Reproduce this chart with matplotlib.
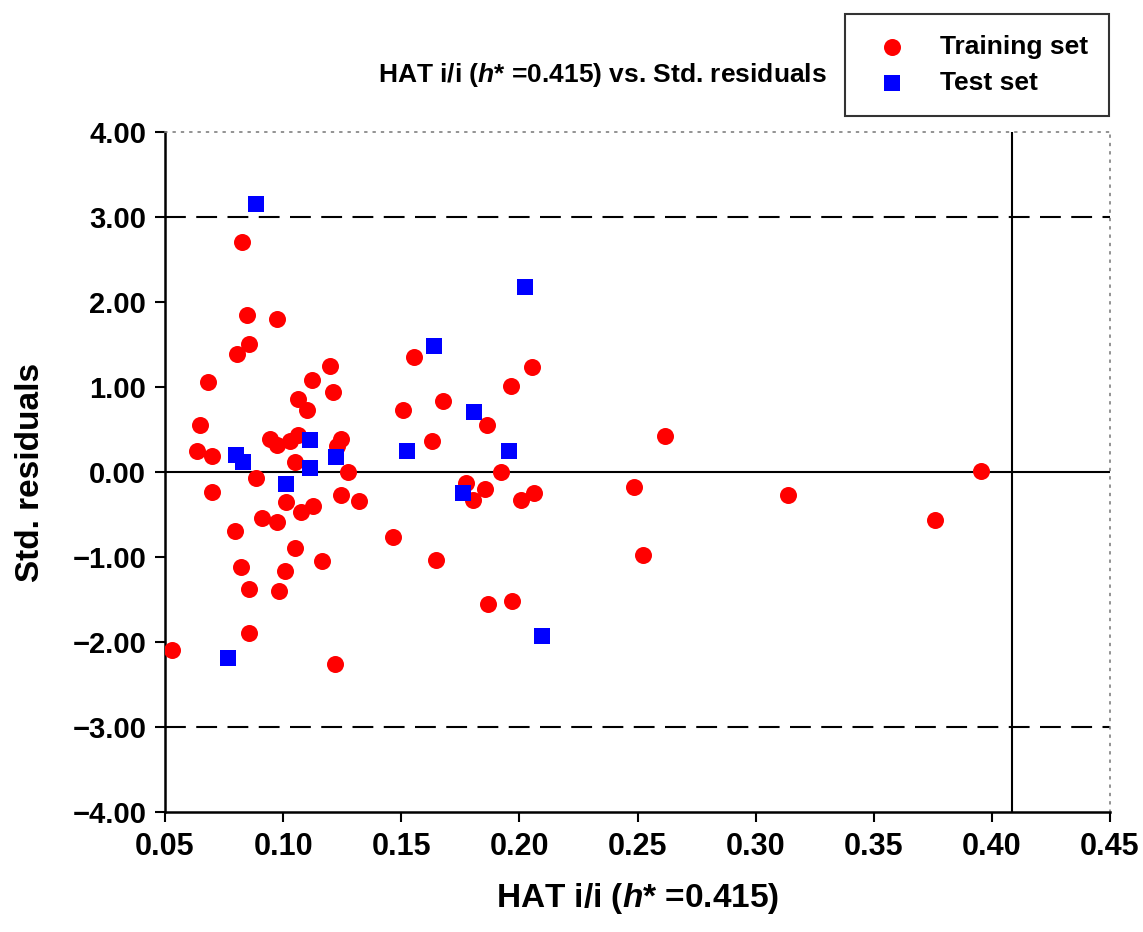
import matplotlib
matplotlib.use('Agg')
import matplotlib.pyplot as plt

# Williams plot: leverage (HAT i/i) vs standardised residuals
train_hat = [0.053, 0.0635, 0.065, 0.068, 0.070, 0.070,
             0.0826, 0.0846, 0.0973, 0.0855, 0.0803, 0.120, 0.112, 0.121, 0.1063, 0.110,
             0.0944, 0.0973, 0.103, 0.1063, 0.105, 0.1245, 0.123, 0.1275, 0.0885, 0.101,
             0.1127, 0.1077, 0.1245, 0.132, 0.091, 0.0973,
             0.0795, 0.105, 0.1165, 0.0822, 0.1008, 0.0856, 0.0981, 0.0856, 0.122,
             0.1554, 0.2053, 0.1965, 0.1677, 0.1507, 0.1862, 0.163, 0.1922, 0.1774,
             0.1855, 0.1804, 0.2007, 0.2062,
             0.1465, 0.1647, 0.1867, 0.1969,
             0.2616, 0.2485, 0.2523, 0.3137, 0.376, 0.3954]
train_res = [-2.09, 0.25, 0.55, 1.06, 0.19, -0.24,
             2.71, 1.85, 1.80, 1.51, 1.39, 1.25, 1.08, 0.94, 0.86, 0.73,
             0.39, 0.32, 0.36, 0.44, 0.12, 0.39, 0.31, 0.0, -0.07, -0.35,
             -0.40, -0.47, -0.27, -0.34, -0.54, -0.59,
             -0.70, -0.90, -1.05, -1.12, -1.16, -1.38, -1.40, -1.89, -2.26,
             1.35, 1.24, 1.01, 0.84, 0.73, 0.55, 0.36, 0.0, -0.13,
             -0.20, -0.33, -0.33, -0.25,
             -0.77, -1.04, -1.55, -1.52,
             0.42, -0.18, -0.98, -0.27, -0.56, 0.01]

test_hat = [0.0885, 0.080, 0.083, 0.1114, 0.1114, 0.1012, 0.1224, 0.0768,
            0.2024, 0.1639, 0.1808, 0.1524, 0.1956, 0.1761, 0.2096]
test_res = [3.15, 0.20, 0.12, 0.38, 0.05, -0.14, 0.18, -2.19,
            2.18, 1.48, 0.71, 0.25, 0.25, -0.25, -1.93]

h_line = 0.4085
res_limit = 3.0
xticks = [0.05, 0.10, 0.15, 0.20, 0.25, 0.30, 0.35, 0.40, 0.45]
yticks = [-4, -3, -2, -1, 0, 1, 2, 3, 4]

plt.rcParams.update({
    'font.family': 'Liberation Sans',
    'font.weight': 'bold',
    'mathtext.fontset': 'custom',
    'mathtext.it': 'Liberation Sans:italic:bold',
    'mathtext.rm': 'Liberation Sans:bold',
})

fig = plt.figure(figsize=(11.43, 9.32), dpi=100)
ax = fig.add_axes([0.1444, 0.1288, 0.8267, 0.7296])

ax.scatter(train_hat, train_res, s=150, c='#ff0000', marker='o', linewidths=0,
           label='Training set', zorder=3)
ax.scatter(test_hat, test_res, s=125, c='#0000ff', marker='s', linewidths=0,
           label='Test set', zorder=3)

ax.axhline(0, color='black', lw=1.5, zorder=1)
ax.axhline(res_limit, color='black', lw=1.5, ls=(0, (10, 5)), zorder=1)
ax.axhline(-res_limit, color='black', lw=1.5, ls=(0, (10, 5)), zorder=1)
ax.axvline(h_line, color='black', lw=1.5, zorder=1)

ax.set_xlim(0.05, 0.45)
ax.set_ylim(-4, 4)
ax.set_xticks(xticks)
ax.set_xticklabels(['%.2f' % v for v in xticks])
ax.set_yticks(yticks)
ax.set_yticklabels([('%.2f' % v).replace('-', '\u2212') for v in yticks])
ax.tick_params(direction='out', length=7.5, width=1.5)
ax.tick_params(axis='x', labelsize=22, pad=7)
ax.tick_params(axis='y', labelsize=21, pad=6)

for s in ['left', 'bottom']:
    ax.spines[s].set_linewidth(1.8)
for s in ['top', 'right']:
    ax.spines[s].set_color('gray')
    ax.spines[s].set_linewidth(1.2)
    ax.spines[s].set_linestyle((0, (1, 4)))

fig.text(0.558, 0.036, r'HAT i/i ($h$* =0.415)', ha='center', va='center',
         fontsize=24, fontweight='bold')
fig.text(0.027, 0.493, 'Std. residuals', ha='center', va='center',
         rotation=90, fontsize=24, fontweight='bold')
fig.text(0.527, 0.919, r'HAT i/i ($h$* =0.415) vs. Std. residuals',
         ha='center', va='center', fontsize=19, fontweight='bold')

leg = ax.legend(loc='upper left', bbox_to_anchor=(0.739, 0.985),
                bbox_transform=fig.transFigure, frameon=True,
                fancybox=False, edgecolor='black', borderpad=0.8,
                handletextpad=0.8, labelspacing=0.45, borderaxespad=0,
                scatterpoints=1, prop={'weight': 'bold', 'size': 19})
leg.get_frame().set_linewidth(1.5)

fig.savefig('out.png', dpi=100)
